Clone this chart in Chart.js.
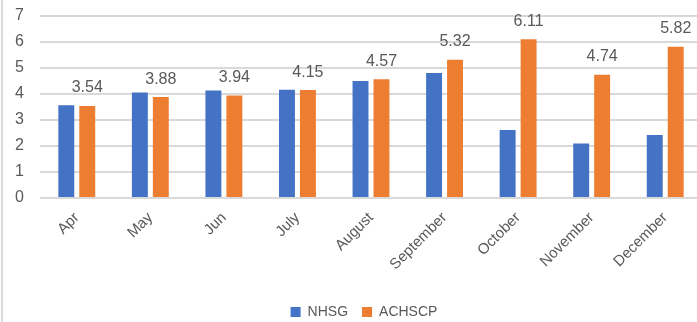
<!DOCTYPE html>
<html>
<head>
<meta charset="utf-8">
<script src="https://cdn.jsdelivr.net/npm/chart.js@4.4.1/dist/chart.umd.min.js"></script>
<style>
  html, body { margin: 0; padding: 0; background: #fff; overflow: hidden; }
  #wrap { position: relative; width: 697px; height: 322px; overflow: hidden; }
  #edge { position: absolute; left: 1px; top: 0; width: 2px; height: 322px; background: #d9d9d9; z-index: 2; }
  canvas { position: absolute; left: 0; top: 0; }
</style>
</head>
<body>
<div id="wrap">
  <div id="edge"></div>
  <canvas id="c" width="728" height="329"></canvas>
</div>
<script>
// Monthly rates for the two partnerships
const months = ['Apr', 'May', 'Jun', 'July', 'August', 'September', 'October', 'November', 'December'];
const nhsg = [3.57, 4.06, 4.13, 4.16, 4.50, 4.81, 2.62, 2.10, 2.42];
const achscp = [3.54, 3.88, 3.94, 4.15, 4.57, 5.32, 6.11, 4.74, 5.82];
const yTicks = [0, 1, 2, 3, 4, 5, 6, 7];

const textGrey = '#595959';
const fontFamily = '"Liberation Sans", Arial, sans-serif';

// Writes the ACHSCP value above each of its bars
const valueLabels = {
  id: 'valueLabels',
  afterDatasetsDraw(chart) {
    const ctx = chart.ctx;
    const meta = chart.getDatasetMeta(1);
    const data = chart.data.datasets[1].data;
    ctx.save();
    ctx.font = '16px ' + fontFamily;
    ctx.fillStyle = textGrey;
    ctx.textAlign = 'center';
    ctx.textBaseline = 'middle';
    meta.data.forEach((bar, i) => {
      ctx.fillText(data[i].toFixed(2), bar.x, bar.y - 18);
    });
    ctx.restore();
  }
};

function noEdgePadding(scale) {
  scale.paddingTop = 0;
  scale.paddingBottom = 0;
  scale.paddingLeft = 0;
  scale.paddingRight = 0;
}

new Chart(document.getElementById('c'), {
  type: 'bar',
  data: {
    labels: months,
    datasets: [
      { label: 'NHSG', data: nhsg, backgroundColor: '#4472c4' },
      { label: 'ACHSCP', data: achscp, backgroundColor: '#ed7d31' }
    ]
  },
  options: {
    responsive: false,
    animation: false,
    devicePixelRatio: 1,
    layout: { padding: { top: 16, left: 0, right: 0, bottom: 0 } },
    datasets: {
      bar: { categoryPercentage: 0.57, barPercentage: 0.76 }
    },
    plugins: {
      legend: {
        position: 'bottom',
        labels: {
          boxWidth: 10,
          boxHeight: 10,
          padding: 14,
          color: textGrey,
          font: { family: fontFamily, size: 14 }
        }
      },
      tooltip: { enabled: false }
    },
    scales: {
      x: {
        grid: { display: false, drawTicks: false },
        border: { display: false },
        ticks: {
          color: textGrey,
          font: { family: fontFamily, size: 15 },
          minRotation: 45,
          maxRotation: 45,
          padding: 11,
          autoSkip: false
        },
        afterFit(scale) { scale.height = 93; noEdgePadding(scale); }
      },
      y: {
        min: 0,
        max: 7,
        afterBuildTicks(scale) { scale.ticks = yTicks.map(v => ({ value: v })); },
        grid: { color: '#d9d9d9', lineWidth: 2, drawTicks: false },
        border: { display: false },
        ticks: {
          color: textGrey,
          font: { family: fontFamily, size: 16 },
          padding: 16
        },
        afterFit(scale) { scale.width = 40; noEdgePadding(scale); }
      },
      yRight: {
        position: 'right',
        grid: { display: false, drawTicks: false },
        border: { display: false },
        ticks: { display: false },
        afterFit(scale) { scale.width = 26; noEdgePadding(scale); }
      }
    }
  },
  plugins: [valueLabels]
});
</script>
</body>
</html>
